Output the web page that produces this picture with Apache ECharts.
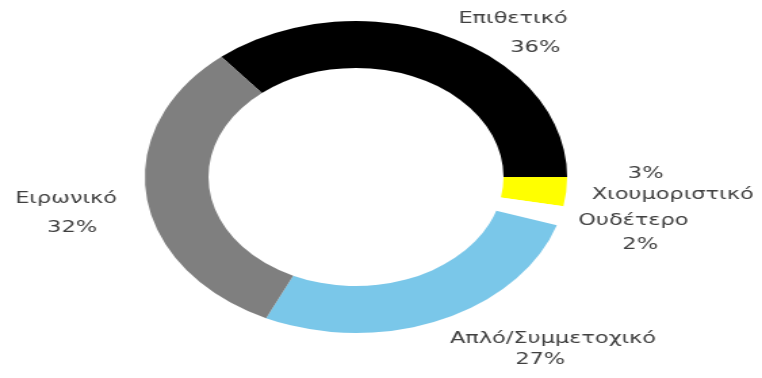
<!DOCTYPE html>
<html>
<head>
<meta charset="utf-8">
<script src="https://cdn.jsdelivr.net/npm/echarts@6/dist/echarts.min.js"></script>
<style>
  html, body { margin: 0; padding: 0; background: #ffffff; overflow: hidden; }
  #wrap { width: 762px; height: 378px; overflow: hidden; }
  /* the drawing is widened horizontally, so the ring reads as an ellipse */
  #chart { width: 563px; height: 378px; transform: scaleX(1.3535); transform-origin: 0 0; }
</style>
</head>
<body>
<div id="wrap"><div id="chart"></div></div>
<script>
// Tone of communication, share in percent
const categories = ['Επιθετικό', 'Χιουμοριστικό', 'Ουδέτερο', 'Απλό/Συμμετοχικό', 'Ειρωνικό'];
const shares = [36, 3, 2, 27, 32];

// Presentation per slice
const sliceColors = ['#000000', '#ffff00', '#ffffff', '#7ac7e9', '#7f7f7f'];
const valueFirst = [false, true, false, false, false];
const labelPos = [[379, 33.5], [497, 184.5], [468, 233], [408.6, 349.5], [48.8, 213.5]];
const lineHeights = [29, 21, 24, 21, 29];
const valueShift = [[0, 0, 0, 33], [0, 40, 0, 0], [0, 0, 0, 10], [0, 19, 0, 0], [0, 0, 0, 9]];
const textSize = 16.6;

const data = categories.map((name, i) => ({
  name: name,
  value: shares[i],
  itemStyle: { color: sliceColors[i] },
  label: {
    lineHeight: lineHeights[i],
    rich: {
      n: { lineHeight: lineHeights[i], fontSize: textSize, color: '#404040', fontFamily: 'DejaVu Sans' },
      v: { lineHeight: lineHeights[i], fontSize: textSize, color: '#404040', fontFamily: 'DejaVu Sans', padding: valueShift[i] }
    }
  }
}));

const chart = echarts.init(document.getElementById('chart'), null, { renderer: 'canvas' });
chart.setOption({
  animation: false,
  backgroundColor: '#ffffff',
  series: [{
    type: 'pie',
    center: [263, 177],
    radius: [109, 156],
    startAngle: 129.6,
    clockwise: true,
    avoidLabelOverlap: false,
    silent: true,
    data: data,
    label: {
      show: true,
      position: 'outside',
      fontFamily: 'DejaVu Sans',
      fontSize: textSize,
      color: '#404040',
      align: 'center',
      formatter: function (p) {
        const v = '{v|' + p.value + '%}';
        const n = '{n|' + p.name + '}';
        return valueFirst[p.dataIndex] ? v + '\n' + n : n + '\n' + v;
      }
    },
    labelLine: { show: false },
    labelLayout: function (params) {
      const pos = labelPos[params.dataIndex];
      return { x: pos[0], y: pos[1], align: 'center', verticalAlign: 'middle' };
    }
  }]
});
</script>
</body>
</html>
